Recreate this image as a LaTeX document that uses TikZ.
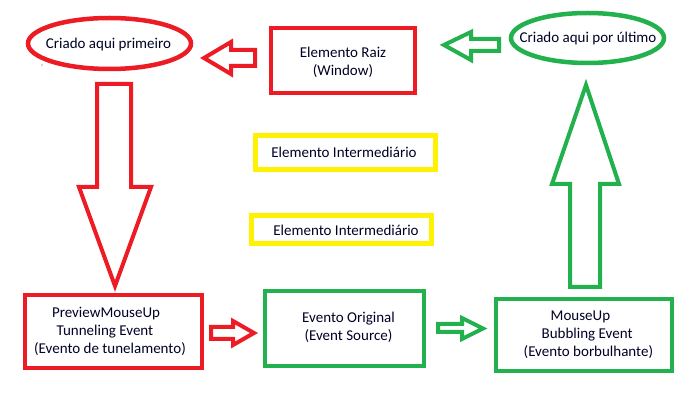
\documentclass[tikz,border=0pt]{standalone}
\usepackage{fontspec}
\setmainfont{Carlito}
\usetikzlibrary{shapes.geometric}
\definecolor{pred}{HTML}{ED1C24}
\definecolor{pgreen}{HTML}{22B14C}
\definecolor{pyellow}{HTML}{FFF200}
\begin{document}
\begin{tikzpicture}[x=1pt,y=-1pt,
  box/.style={draw,line width=4.5pt,minimum width=#1,inner sep=0pt},
  oval/.style={draw,ellipse,line width=4.5pt,inner sep=0pt},
  blockarrow/.style={draw=#1,line width=4pt,line join=miter,fill=white},
  txt/.style={font=\fontsize{15}{18}\selectfont,align=center,inner sep=0pt,text=black!85!blue}]
\useasboundingbox[fill=white] (0,0) rectangle (691,403);
% ellipses
\node[oval,pred,minimum width=163pt,minimum height=51pt] (first) at (109.5,43.5) {};
\node[txt] (firstT) at (108.5,45) {Criado aqui primeiro};
\node[oval,pgreen,minimum width=153pt,minimum height=50pt] (last) at (587.5,38) {};
\node[txt] (lastT) at (588,38.5) {Criado aqui por último};
\fill[black!70] (42,65) circle (0.7pt);
% boxes
\node[box=144pt,pred,minimum height=65pt] (root) at (343,60.5) {};
\node[txt] (rootT) at (343,62.5) {Elemento Raiz\\(Window)};
\node[box=180pt,pyellow,line width=5pt,minimum height=34pt] (mid1) at (345,152.5) {};
\node[txt] (mid1T) at (344,152) {Elemento Intermediário};
\node[box=180pt,pyellow,line width=5pt,minimum height=28pt] (mid2) at (341,230) {};
\node[txt] (mid2T) at (346,230) {Elemento Intermediário};
\node[box=177pt,pred,minimum height=73pt] (tunnel) at (113.5,331.5) {};
\node[txt] (tunnelT) at (110,331) {\hspace*{-8pt}PreviewMouseUp\\\hspace*{-10pt}Tunneling Event\\(Evento de tunelamento)};
\node[box=159pt,pgreen,minimum height=75pt] (source) at (344.5,328.5) {};
\node[txt] (sourceT) at (348.5,327.5) {Evento Original\\(Event Source)};
\node[box=176pt,pgreen,minimum height=72pt] (bubble) at (584,335) {};
\node[txt,align=left,anchor=west] (bubbleT) at (523.5,335) {\hspace*{27pt}MouseUp\\\hspace*{18pt}Bubbling Event\\(Evento borbulhante)};
% block arrows
\draw[blockarrow=pred] (255,50) -- (231,50) -- (231,42) -- (204,58) -- (231,74) -- (231,66) -- (255,66) -- cycle;
\draw[blockarrow=pgreen] (499,39) -- (471,39) -- (471,32) -- (444,45) -- (471,60) -- (471,51) -- (499,51) -- cycle;
\draw[blockarrow=pred] (97,84) -- (131,84) -- (131,187) -- (151,187) -- (115,286) -- (79,187) -- (97,187) -- cycle;
\draw[blockarrow=pgreen] (570,287) -- (600,287) -- (600,184) -- (619,184) -- (586,85) -- (552,184) -- (570,184) -- cycle;
\draw[blockarrow=pred] (211,327) -- (233,327) -- (233,321) -- (254,333) -- (233,345) -- (233,339) -- (211,339) -- cycle;
\draw[blockarrow=pgreen] (438,324) -- (462,324) -- (462,318) -- (483,328.5) -- (462,339) -- (462,332) -- (438,332) -- cycle;
\end{tikzpicture}
\end{document}
